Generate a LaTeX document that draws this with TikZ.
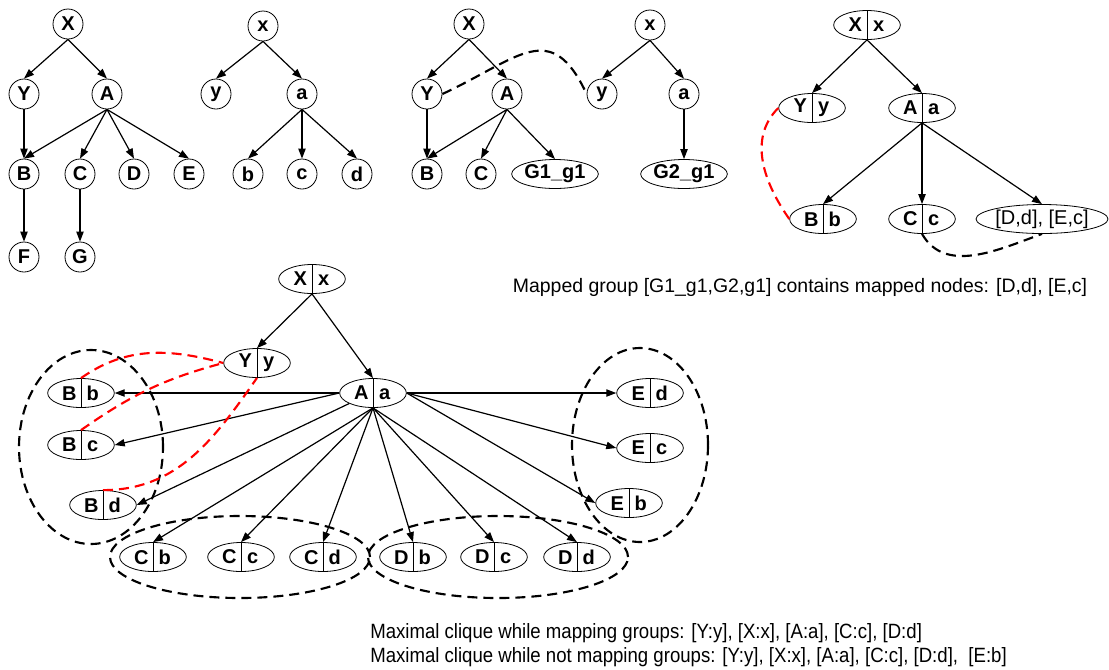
\documentclass[tikz,border=0pt]{standalone}
\usepackage{fontspec}
\setmainfont{Liberation Sans}
\newfontfamily\narrowsans[FakeStretch=0.9]{Liberation Sans}
\usetikzlibrary{arrows.meta, positioning, shapes.geometric}
\newcommand{\pairtext}[2]{\makebox[17.5pt]{#1}\makebox[17.5pt]{#2}}

\begin{document}
\begin{tikzpicture} [x=0.75pt, y=0.75pt, on grid,
        vertex/.style = {circle, draw, line width=0.6pt, minimum size=22.5pt, inner sep=0pt, font=\bfseries\fontsize{15}{15}\selectfont},
        pair/.style = {ellipse, draw, line width=0.6pt, minimum width=50pt, minimum height=21.75pt, inner sep=0pt, font=\bfseries\fontsize{15}{15}\selectfont,
            path picture={\draw[line width=0.6pt] (path picture bounding box.north) -- (path picture bounding box.south);}},
        grpnode/.style = {ellipse, draw, line width=0.6pt, minimum width=65pt, minimum height=21.75pt, inner sep=0pt, font=\bfseries\fontsize{15}{15}\selectfont},
        arr/.style = {-{Triangle[length=7.5pt, width=5.5pt]}, line width=0.9pt},
        link/.style = {line width=1.6pt, dash pattern=on 7.5pt off 4.5pt},
        redlink/.style = {link, red},
        cluster/.style = {line width=1.6pt, dash pattern=on 7.5pt off 4.5pt}]
        \useasboundingbox (0,0) rectangle (1109,-669);

        \node (X1) [vertex] at (68,-24) {X};
        \node (Y1) [vertex, below left = 52.5pt and 33pt of X1] {Y};
        \node (A1) [vertex, right = 62.25pt of Y1] {A};
        \node (B1) [vertex, below = 60pt of Y1] {B};
        \node (C1) [vertex, right = 42pt of B1] {C};
        \node (D1) [vertex, right = 40.5pt of C1] {D};
        \node (E1) [vertex, right = 41.25pt of D1] {E};
        \node (F1) [vertex, below = 62.25pt of B1] {F};
        \node (G1) [vertex, below = 62.25pt of C1] {G};

        \path [arr] (X1.south) edge (Y1.north);
        \path [arr] (X1.south) edge (A1.north);
        \path [arr] (Y1.south) edge (B1.north);
        \path [arr] (A1.south) edge (B1.north);
        \path [arr] (A1.south) edge (C1.north);
        \path [arr] (A1.south) edge (D1.north);
        \path [arr] (A1.south) edge (E1.north);
        \path [arr] (B1.south) edge (F1.north);
        \path [arr] (C1.south) edge (G1.north);

        \node (x2) [vertex] at (263,-26) {x};
        \node (y2) [vertex, below left = 51pt and 35.25pt of x2] {y};
        \node (a2) [vertex, right = 64.5pt of y2] {a};
        \node (b2) [vertex, below left = 60pt and 40.5pt of a2] {b};
        \node (c2) [vertex, right = 40.5pt of b2] {c};
        \node (d2) [vertex, right = 41.25pt of c2] {d};

        \path [arr] (x2.south) edge (y2.north);
        \path [arr] (x2.south) edge (a2.north);
        \path [arr] (a2.south) edge (b2.north);
        \path [arr] (a2.south) edge (c2.north);
        \path [arr] (a2.south) edge (d2.north);

        \node (X3) [vertex] at (469,-24) {X};
        \node (Y3) [vertex, below left = 52.5pt and 31.5pt of X3] {Y};
        \node (A3) [vertex, right = 60pt of Y3] {A};
        \node (B3) [vertex, below = 60pt of Y3] {B};
        \node (C3) [vertex, right = 40.5pt of B3] {C};
        \node (gA3) [grpnode, right = 55.5pt of C3] {G1\_g1};
        \node (x3) [vertex] at (650,-25) {x};
        \node (y3) [vertex, below left = 51.75pt and 36pt of x3] {y};
        \node (a3) [vertex, right = 61.5pt of y3] {a};
        \node (gB3) [grpnode, below = 60pt of a3] {G2\_g1};

        \path [arr] (X3.south) edge (Y3.north);
        \path [arr] (X3.south) edge (A3.north);
        \path [arr] (Y3.south) edge (B3.north);
        \path [arr] (A3.south) edge (B3.north);
        \path [arr] (A3.south) edge (C3.north);
        \path [arr] (A3.south) edge (gA3.north);
        \path [arr] (x3.south) edge (y3.north);
        \path [arr] (x3.south) edge (a3.north);
        \path [arr] (a3.south) edge (gB3.north);
        \draw [link] (Y3.east) to [out=25, in=115, looseness=1.5] (y3.west);

        \node (Xx4) [pair] at (867,-25) {\pairtext{X}{x}};
        \node (Yy4) [pair, below left = 62.25pt and 41.25pt of Xx4] {\pairtext{Y}{y}};
        \node (Aa4) [pair, right = 82.5pt of Yy4] {\pairtext{A}{a}};
        \node (Bb4) [pair, below left = 83.25pt and 74.25pt of Aa4] {\pairtext{B}{b}};
        \node (Cc4) [pair, right = 74.25pt of Bb4] {\pairtext{C}{c}};
        \node (DE4) [ellipse, draw, line width=0.6pt, minimum width=92pt, minimum height=21.75pt, inner sep=0pt, font=\fontsize{15}{15}\selectfont, right = 90pt of Cc4] {[D,d], [E,c]};

        \path [arr] (Xx4.south) edge (Yy4.north);
        \path [arr] (Xx4.south) edge (Aa4.north);
        \path [arr] (Aa4.south) edge (Bb4.north);
        \path [arr] (Aa4.south) edge (Cc4.north);
        \path [arr] (Aa4.south) edge (DE4.north);
        \draw [redlink] (Yy4.west) to [out=225, in=125] (Bb4.west);
        \draw [link] (Cc4.south) to [out=-60, in=200] (DE4.south);

        \node (mapnote) [font=\fontsize{14.6}{16}\selectfont] at (800,-287) {Mapped group [G1\_g1,G2,g1] contains mapped nodes: [D,d], [E,c]};

        \node (Xx5) [pair] at (312,-279) {\pairtext{X}{x}};
        \node (Yy5) [pair, below left = 63pt and 41.25pt of Xx5] {\pairtext{Y}{y}};
        \node (Aa5) [pair, below right = 85.5pt and 45.75pt of Xx5] {\pairtext{A}{a}};
        \node (Bb5) [pair, left = 219pt of Aa5] {\pairtext{B}{b}};
        \node (Bc5) [pair, below = 39pt of Bb5] {\pairtext{B}{c}};
        \node (Bd5) [pair, below right = 45pt and 16.5pt of Bc5] {\pairtext{B}{d}};
        \node (Cb5) [pair, below right = 39pt and 37.5pt of Bd5] {\pairtext{C}{b}};
        \node (Cc5) [pair, right = 66pt of Cb5] {\pairtext{C}{c}};
        \node (Cd5) [pair, right = 61.5pt of Cc5] {\pairtext{C}{d}};
        \node (Db5) [pair, right = 67.5pt of Cd5] {\pairtext{D}{b}};
        \node (Dc5) [pair, right = 60.75pt of Db5] {\pairtext{D}{c}};
        \node (Dd5) [pair, right = 62.25pt of Dc5] {\pairtext{D}{d}};
        \node (Ed5) [pair, right = 207.75pt of Aa5] {\pairtext{E}{d}};
        \node (Ec5) [pair, below = 41.25pt of Ed5] {\pairtext{E}{c}};
        \node (Eb5) [pair, below left = 41.25pt and 15.75pt of Ec5] {\pairtext{E}{b}};

        \draw [cluster] (91,-447) ellipse [x radius=72, y radius=97];
        \draw [cluster] (240,-557) ellipse [x radius=130, y radius=41];
        \draw [cluster] (498,-557) ellipse [x radius=130, y radius=41];
        \draw [cluster] (640,-445) ellipse [x radius=68, y radius=97];

        \path [arr] (Xx5.south) edge (Yy5.north);
        \path [arr] (Xx5.south) edge (Aa5.north);
        \path [arr] (Aa5.west) edge (Bb5.east);
        \path [arr] (Aa5.west) edge (Bc5.east);
        \path [arr] (Aa5.south west) edge (Bd5.east);
        \path [arr] (Aa5.south) edge (Cb5.north);
        \path [arr] (Aa5.south) edge (Cc5.north);
        \path [arr] (Aa5.south) edge (Cd5.north);
        \path [arr] (Aa5.south) edge (Db5.north);
        \path [arr] (Aa5.south) edge (Dc5.north);
        \path [arr] (Aa5.south) edge (Dd5.north);
        \path [arr] (Aa5.east) edge (Ed5.west);
        \path [arr] (Aa5.east) edge (Ec5.west);
        \path [arr] (Aa5.east) edge (Eb5.west);
        \draw [redlink] (Bb5.north) to [out=35, in=165] (Yy5.west);
        \draw [redlink] (Bc5.north) to [out=35, in=195] (Yy5.west);
        \draw [redlink] (Bd5.north) to [out=0, in=235] (Yy5.south);

        \node (note1) [anchor=west, inner sep=0pt, font=\narrowsans\fontsize{15.5}{17}\selectfont] at (370,-633) {Maximal clique while mapping groups: [Y:y], [X:x], [A:a], [C:c], [D:d]};
        \node (note2) [anchor=west, inner sep=0pt, font=\narrowsans\fontsize{15.5}{17}\selectfont] at (370,-657) {Maximal clique while not mapping groups: [Y:y], [X:x], [A:a], [C:c], [D:d], \ [E:b]};
    \end{tikzpicture}
\end{document}
